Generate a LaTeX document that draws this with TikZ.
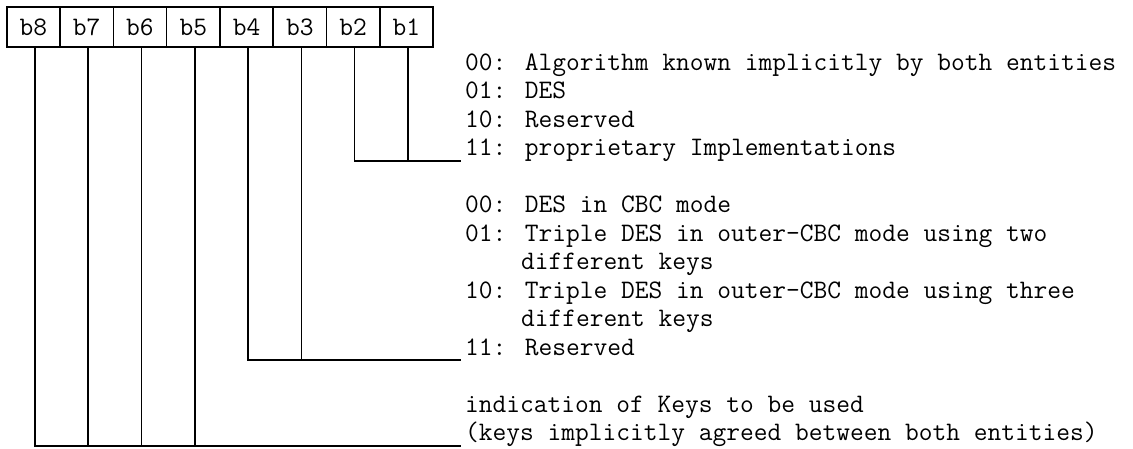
\documentclass[tikz,border=0pt]{standalone}
\usepackage{tikz}
\newcommand{\codefont}{\fontsize{26.7}{28.5}\selectfont\ttfamily}

\begin{document}
\begin{tikzpicture}[x=1pt,y=-1pt,
    bitbox/.style={draw,line width=1.6pt,minimum width=53.3pt,
                   minimum height=40pt,inner sep=0pt,font=\codefont},
    codeline/.style={anchor=base west,inner sep=0pt,font=\codefont},
    wire/.style={line width=1.6pt}]
\useasboundingbox (0,0) rectangle (1133,448);
\node[bitbox] (b8) at (33.35,27) {b8};
\node[bitbox] (b7) at (86.65,27) {b7};
\node[bitbox] (b6) at (139.95,27) {b6};
\node[bitbox] (b5) at (193.25,27) {b5};
\node[bitbox] (b4) at (246.55,27) {b4};
\node[bitbox] (b3) at (299.85,27) {b3};
\node[bitbox] (b2) at (353.15,27) {b2};
\node[bitbox] (b1) at (406.45,27) {b1};
\coordinate (algend) at (461,161);
\coordinate (modeend) at (461,360);
\coordinate (keyend) at (461,446);
\node[codeline] (alg00) at (465,70) {00: Algorithm known implicitly by both entities};
\node[codeline] (alg01) at (465,98.5) {01: DES};
\node[codeline] (alg10) at (465,127) {10: Reserved};
\node[codeline] (alg11) at (465,155.5) {11: proprietary Implementations};
\node[codeline] (mode00) at (465,212.5) {00: DES in CBC mode};
\node[codeline] (mode01) at (465,241) {01: Triple DES in outer-CBC mode using two};
\node[codeline] (mode01b) at (521,269.5) {different keys};
\node[codeline] (mode10) at (465,298) {10: Triple DES in outer-CBC mode using three};
\node[codeline] (mode10b) at (521,326.5) {different keys};
\node[codeline] (mode11) at (465,355) {11: Reserved};
\node[codeline] (keyuse) at (465,412) {indication of Keys to be used};
\node[codeline] (keyimp) at (465,440.5) {(keys implicitly agreed between both entities)};
\draw[wire] ([xshift=1.5pt]b2.south) |- (algend);
\draw[wire] ([xshift=1.5pt]b1.south) |- (algend);
\draw[wire] ([xshift=1.5pt]b4.south) |- (modeend);
\draw[wire] ([xshift=1.5pt]b3.south) |- (modeend);
\draw[wire] ([xshift=1.5pt]b8.south) |- (keyend);
\draw[wire] ([xshift=1.5pt]b7.south) |- (keyend);
\draw[wire] ([xshift=1.5pt]b6.south) |- (keyend);
\draw[wire] ([xshift=1.5pt]b5.south) |- (keyend);
\end{tikzpicture}
\end{document}
